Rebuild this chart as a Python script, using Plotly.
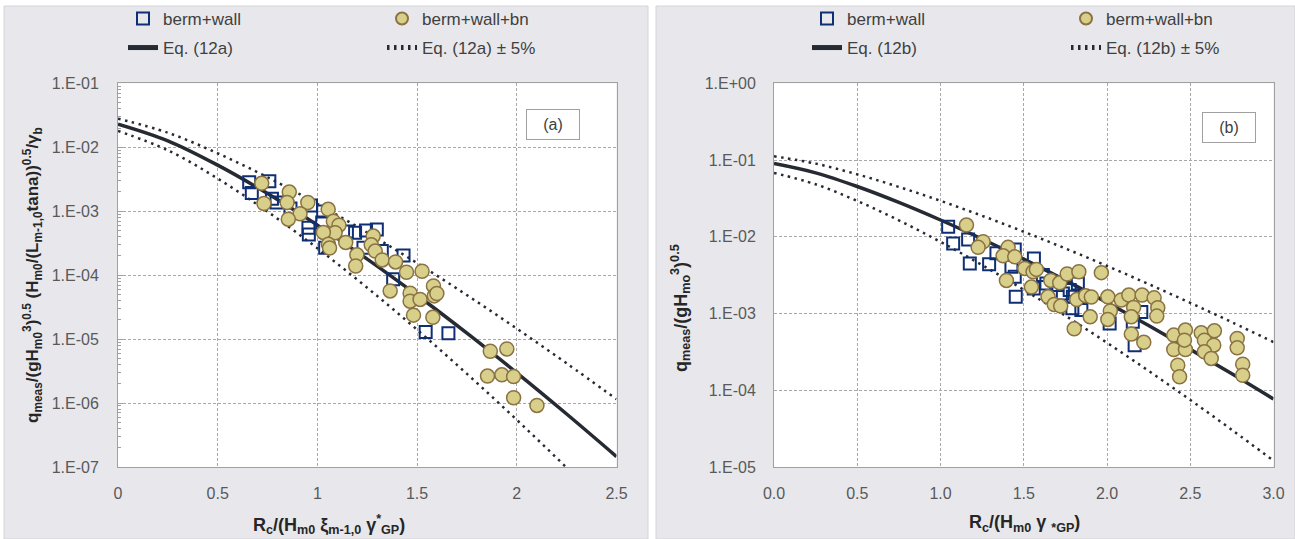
import plotly.graph_objects as go

# ---------------- data ----------------
# Panel (a)
a_sq_x = [0.658, 0.759, 0.671, 0.772, 0.795, 0.865, 0.968, 0.955, 0.957, 1.024, 1.039, 1.148,
          1.189, 1.298, 1.231, 1.323, 1.432, 1.380, 1.543, 1.657, 1.244, 1.029]
a_sq_y = [2.83e-3, 2.93e-3, 1.92e-3, 1.56e-3, 1.37e-3, 1.10e-3, 1.23e-3, 5.51e-4, 4.34e-4, 6.67e-4,
          2.69e-4, 4.83e-4, 4.61e-4, 5.19e-4, 2.69e-4, 2.38e-4, 2.02e-4, 8.63e-5, 1.29e-5, 1.23e-5,
          5.00e-4, 9.89e-4]
a_ci_x = [0.721, 0.859, 0.732, 0.848, 0.952, 0.913, 0.854, 1.054, 1.080, 1.108, 1.089, 1.030,
          1.055, 1.061, 1.142, 1.198, 1.192, 1.280, 1.270, 1.290, 1.325, 1.392, 1.447, 1.525,
          1.365, 1.465, 1.465, 1.515, 1.582, 1.586, 1.599, 1.482, 1.579, 1.867, 1.950, 1.853,
          1.925, 1.984, 1.984, 2.101]
a_ci_y = [2.73e-3, 1.99e-3, 1.32e-3, 1.37e-3, 1.37e-3, 9.12e-4, 7.50e-4, 1.07e-3, 6.98e-4, 6.05e-4,
          4.61e-4, 4.66e-4, 3.03e-4, 2.65e-4, 3.25e-4, 2.08e-4, 1.39e-4, 4.08e-4, 2.98e-4, 2.38e-4,
          1.73e-4, 1.61e-4, 1.11e-4, 1.15e-4, 5.67e-5, 5.22e-5, 3.92e-5, 4.17e-5, 6.79e-5, 4.74e-5,
          5.16e-5, 2.37e-5, 2.19e-5, 6.46e-6, 7.02e-6, 2.64e-6, 2.76e-6, 2.59e-6, 1.21e-6, 9.18e-7]
a_eq_x = [0.0, 0.25, 0.5, 0.75, 1.0, 1.25, 1.5, 1.75, 2.0, 2.25, 2.5]
a_eq_y = [2.300e-2, 1.262e-2, 5.252e-3, 1.883e-3, 6.053e-4, 1.780e-4, 4.852e-5, 1.237e-5,
          2.966e-6, 6.735e-7, 1.456e-7]
a_up_y = [2.800e-2, 1.688e-2, 8.046e-3, 3.387e-3, 1.300e-3, 4.625e-4, 1.543e-4, 4.866e-5,
          1.459e-5, 4.176e-6, 1.146e-6]
a_lo_y = [1.800e-2, 8.966e-3, 3.236e-3, 9.836e-4, 2.632e-4, 6.347e-5, 1.401e-5, 2.862e-6,
          5.455e-7, 9.752e-8, 1.644e-8]

# Panel (b)
b_sq_x = [1.046, 1.076, 1.166, 1.176, 1.292, 1.336, 1.446, 1.426, 1.446, 1.452, 1.561, 1.560,
          1.615, 1.636, 1.696, 1.735, 1.776, 1.795, 1.825, 1.792, 1.846, 2.016, 2.155, 2.166, 2.206]
b_sq_y = [1.35e-2, 8.20e-3, 9.25e-3, 4.50e-3, 4.37e-3, 6.08e-3, 6.85e-3, 4.06e-3, 3.01e-3, 1.65e-3,
          5.23e-3, 2.12e-3, 3.17e-3, 2.47e-3, 2.35e-3, 1.83e-3, 2.02e-3, 1.65e-3, 2.47e-3, 1.17e-3,
          1.11e-3, 7.43e-4, 7.80e-4, 3.87e-4, 1.05e-3]
b_ci_x = [1.156, 1.256, 1.226, 1.406, 1.376, 1.446, 1.506, 1.556, 1.576, 1.396, 1.546, 1.662,
          1.716, 1.761, 1.831, 1.966, 1.646, 1.683, 1.722, 1.818, 1.872, 1.906, 1.899, 1.803,
          2.005, 2.020, 2.005, 2.086, 2.131, 2.160, 2.146, 2.211, 2.283, 2.305, 2.299, 2.146,
          2.221, 2.401, 2.471, 2.401, 2.471, 2.465, 2.425, 2.436, 2.566, 2.645, 2.585, 2.641,
          2.585, 2.626, 2.782, 2.782, 2.815, 2.815]
b_ci_y = [1.42e-2, 8.61e-3, 7.28e-3, 7.28e-3, 5.65e-3, 5.48e-3, 3.87e-3, 3.50e-3, 3.76e-3, 2.70e-3,
          2.21e-3, 2.70e-3, 2.51e-3, 3.27e-3, 3.50e-3, 3.41e-3, 1.65e-3, 1.31e-3, 1.25e-3, 1.52e-3,
          1.71e-3, 1.64e-3, 9.06e-4, 6.32e-4, 1.65e-3, 1.08e-3, 8.38e-4, 1.50e-3, 1.74e-3, 1.20e-3,
          9.06e-4, 1.74e-3, 1.60e-3, 1.19e-3, 9.25e-4, 5.39e-4, 4.21e-4, 5.23e-4, 6.08e-4, 3.40e-4,
          3.40e-4, 4.50e-4, 2.12e-4, 1.50e-4, 5.60e-4, 5.95e-4, 4.50e-4, 3.87e-4, 3.17e-4, 2.60e-4,
          4.73e-4, 3.57e-4, 2.19e-4, 1.57e-4]
b_eq_x = [0.0, 0.25, 0.5, 0.75, 1.0, 1.25, 1.5, 1.75, 2.0, 2.25, 2.5, 2.75, 3.0]
b_eq_y = [9.000e-2, 6.808e-2, 4.522e-2, 2.806e-2, 1.654e-2, 9.353e-3, 5.104e-3, 2.700e-3,
          1.389e-3, 6.967e-4, 3.412e-4, 1.636e-4, 7.681e-5]
b_up_y = [1.120e-1, 8.984e-2, 6.510e-2, 4.466e-2, 2.942e-2, 1.877e-2, 1.164e-2, 7.043e-3,
          4.169e-3, 2.417e-3, 1.377e-3, 7.710e-4, 4.247e-4]
b_lo_y = [6.800e-2, 4.832e-2, 2.934e-2, 1.637e-2, 8.583e-3, 4.276e-3, 2.040e-3, 9.371e-4,
          4.160e-4, 1.789e-4, 7.483e-5, 3.047e-5, 1.210e-5]

# tick labels
a_xticks = [0, 0.5, 1, 1.5, 2, 2.5]
a_xtext = ["0", "0.5", "1", "1.5", "2", "2.5"]
a_yticks = [1e-7, 1e-6, 1e-5, 1e-4, 1e-3, 1e-2, 1e-1]
a_ytext = ["1.E-07", "1.E-06", "1.E-05", "1.E-04", "1.E-03", "1.E-02", "1.E-01"]
b_xticks = [0, 0.5, 1, 1.5, 2, 2.5, 3]
b_xtext = ["0.0", "0.5", "1.0", "1.5", "2.0", "2.5", "3.0"]
b_yticks = [1e-5, 1e-4, 1e-3, 1e-2, 1e-1, 1e0]
b_ytext = ["1.E-05", "1.E-04", "1.E-03", "1.E-02", "1.E-01", "1.E+00"]

# ---------------- styles ----------------
W, H = 1295, 539
FONT = "Liberation Sans, Arial, sans-serif"
LINE_C = "#262a33"
SQ_C = "#0f2f74"
CI_FILL = "#d8cf8a"
CI_EDGE = "#8a7242"
PANEL = "#e8e8ec"
GRID = "#a8a8a8"
TICK_C = "#595959"
TITLE_C = "#262626"
DOT = "2.5px,4.5px"

fig = go.Figure()


def add_panel(xe, ye, yu, yl, sqx, sqy, cix, ciy, xa, ya, eqname, leg_m, leg_l):
    fig.add_trace(go.Scatter(x=xe, y=ye, mode="lines", line=dict(color=LINE_C, width=3.5, shape="spline"),
                             name=eqname, xaxis=xa, yaxis=ya, legend=leg_l))
    fig.add_trace(go.Scatter(x=xe, y=yu, mode="lines", line=dict(color=LINE_C, width=2.5, dash=DOT, shape="spline"),
                             name=eqname + " \u00b1 5%", xaxis=xa, yaxis=ya, legend=leg_l))
    fig.add_trace(go.Scatter(x=xe, y=yl, mode="lines", line=dict(color=LINE_C, width=2.5, dash=DOT, shape="spline"),
                             showlegend=False, xaxis=xa, yaxis=ya))
    fig.add_trace(go.Scatter(x=sqx, y=sqy, mode="markers", name="berm+wall",
                             marker=dict(symbol="square-open", size=12, color=SQ_C, line=dict(width=2, color=SQ_C)),
                             xaxis=xa, yaxis=ya, legend=leg_m))
    fig.add_trace(go.Scatter(x=cix, y=ciy, mode="markers", name="berm+wall+bn",
                             marker=dict(symbol="circle", size=14, color=CI_FILL, line=dict(width=1.5, color=CI_EDGE)),
                             xaxis=xa, yaxis=ya, legend=leg_m))


add_panel(a_eq_x, a_eq_y, a_up_y, a_lo_y, a_sq_x, a_sq_y, a_ci_x, a_ci_y, "x", "y", "Eq. (12a)", "legend", "legend2")
add_panel(b_eq_x, b_eq_y, b_up_y, b_lo_y, b_sq_x, b_sq_y, b_ci_x, b_ci_y, "x2", "y2", "Eq. (12b)", "legend3", "legend4")

ydom = [1 - 467 / H, 1 - 83.3 / H]
ax_common = dict(showgrid=True, gridcolor=GRID, griddash="3px,2px", gridwidth=1,
                 showline=True, linecolor="#a0a0a0", linewidth=1, mirror=True,
                 tickfont=dict(family=FONT, size=16, color=TICK_C), zeroline=False, automargin=False)

fig.update_layout(
    width=W, height=H, margin=dict(l=0, r=0, t=0, b=0, autoexpand=False),
    paper_bgcolor="white", plot_bgcolor="white",
    font=dict(family=FONT, color="#404040"),
    xaxis=dict(domain=[118 / W, 616.5 / W], anchor="y", range=[0, 2.5],
               tickvals=a_xticks, ticktext=a_xtext, ticks="", ticklabelstandoff=12, **ax_common),
    yaxis=dict(domain=ydom, anchor="x", type="log", range=[-7, -1],
               tickvals=a_yticks, ticktext=a_ytext, ticks="inside", ticklen=5, tickcolor="#a0a0a0",
               ticklabelstandoff=15,
               minor=dict(ticks="inside", ticklen=3, tickcolor="#a0a0a0", dtick="D1", showgrid=False),
               **ax_common),
    xaxis2=dict(domain=[774 / W, 1273.5 / W], anchor="y2", range=[0, 3],
                tickvals=b_xticks, ticktext=b_xtext, ticks="", ticklabelstandoff=12, **ax_common),
    yaxis2=dict(domain=ydom, anchor="x2", type="log", range=[-5, 0],
                tickvals=b_yticks, ticktext=b_ytext, ticks="", ticklabelstandoff=14, **ax_common),
    showlegend=True,
)

leg_base = dict(orientation="h", xref="container", yref="container", xanchor="left", yanchor="middle",
                bgcolor="rgba(0,0,0,0)", entrywidth=214, font=dict(family=FONT, size=17, color="#404040"),
                itemclick=False, itemsizing="constant")
fig.update_layout(
    legend=dict(x=123 / W, y=1 - 19 / H, **leg_base),
    legend2=dict(x=123 / W, y=1 - 48 / H, **leg_base),
    legend3=dict(x=807 / W, y=1 - 19 / H, **leg_base),
    legend4=dict(x=807 / W, y=1 - 48 / H, **leg_base),
)

# panel backgrounds and white plot areas
shapes = [
    dict(type="rect", xref="paper", yref="paper", x0=4 / W, x1=648 / W, y0=0, y1=1 - 6 / H,
         fillcolor=PANEL, line=dict(color="#d4d4d8", width=1), layer="below"),
    dict(type="rect", xref="paper", yref="paper", x0=656 / W, x1=1.0, y0=0, y1=1 - 6 / H,
         fillcolor=PANEL, line=dict(color="#d4d4d8", width=1), layer="below"),
    dict(type="rect", xref="x domain", yref="y domain", x0=0, x1=1, y0=0, y1=1,
         fillcolor="white", line=dict(width=0), layer="below"),
    dict(type="rect", xref="x2 domain", yref="y2 domain", x0=0, x1=1, y0=0, y1=1,
         fillcolor="white", line=dict(width=0), layer="below"),
]
fig.update_layout(shapes=shapes)

TF = dict(family=FONT, size=18, color=TITLE_C)
AN = dict(xref="paper", yref="paper", showarrow=False, xanchor="center", yanchor="middle")
annotations = [
    dict(text="<b>R<sub>c</sub>/(H<sub>m0</sub> \u03be<sub>m-1,0</sub> \u03b3<sup>*</sup><sub>GP</sub>)</b>",
         x=329 / W, y=1 - 524 / H, font=TF, **AN),
    dict(text="<b>R<sub>c</sub>/(H<sub>m0</sub> \u03b3 <sub>*GP</sub>)</b>",
         x=1024 / W, y=1 - 523 / H, font=TF, **AN),
    dict(text="<b>q<sub>meas</sub>/(gH<sub>m0</sub><sup>3</sup>)<sup>0.5</sup> (H<sub>m0</sub>/(L<sub>m-1,0</sub>tana))<sup>0.5</sup>/\u03b3<sub>b</sub></b>",
         x=32 / W, y=1 - 275 / H, textangle=-90, font=dict(family=FONT, size=17, color=TITLE_C), **AN),
    dict(text="<b>q<sub>meas</sub>/(gH<sub>mo</sub><sup>3</sup>)<sup>0.5</sup></b>",
         x=680 / W, y=1 - 308 / H, textangle=-90, font=TF, **AN),
    dict(text="(a)", x=553 / W, y=1 - 124 / H,
         font=dict(family=FONT, size=16, color="#404040"), bgcolor="white", bordercolor="#a0a0a0",
         borderwidth=1, borderpad=5, width=42, height=19, **AN),
    dict(text="(b)", x=1229 / W, y=1 - 127 / H,
         font=dict(family=FONT, size=16, color="#404040"), bgcolor="white", bordercolor="#a0a0a0",
         borderwidth=1, borderpad=5, width=42, height=19, **AN),
]
fig.update_layout(annotations=annotations)

fig.write_html("out.html", config={"displayModeBar": False},
               post_script="document.body.style.margin='0';document.body.style.overflow='hidden';")
